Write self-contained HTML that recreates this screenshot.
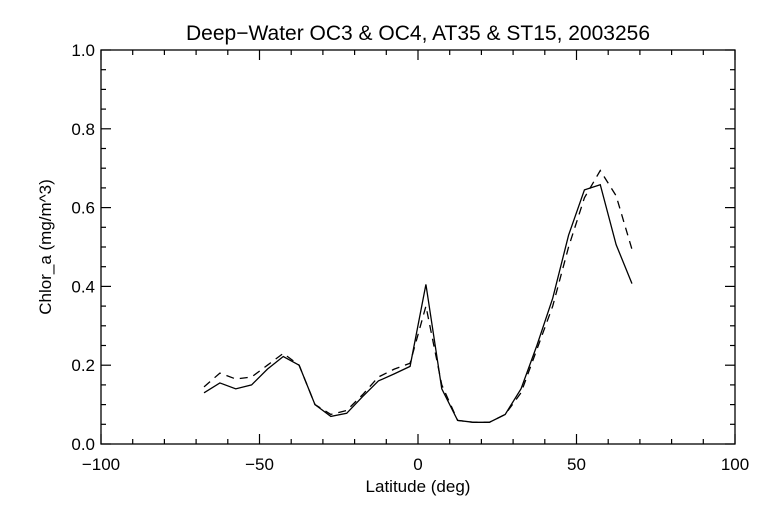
<!DOCTYPE html>
<html><head><meta charset="utf-8"><style>
html,body{margin:0;padding:0;background:#fff;}
svg text{font-family:"Liberation Sans",sans-serif;fill:#000;}
</style></head><body>
<svg id="chart" width="768" height="512" xmlns="http://www.w3.org/2000/svg">
<rect width="768" height="512" fill="#fff"/>
<text x="418" y="40" font-size="21" text-anchor="middle" font-weight="300">Deep−Water OC3 &amp; OC4, AT35 &amp; ST15, 2003256</text>
<g id="axes"></g>
<text x="418" y="492" font-size="17" text-anchor="middle">Latitude (deg)</text>
<text x="0" y="0" font-size="17" text-anchor="middle" transform="translate(51,247) rotate(-90)">Chlor_a (mg/m^3)</text>
<g id="series"></g>
</svg>
<script>
const latitudes = [-67.5,-62.5,-57.5,-52.5,-47.5,-42.5,-37.5,-32.5,-27.5,-22.5,-17.5,-12.5,-7.5,-2.5,2.5,7.5,12.5,17.5,22.5,27.5,32.5,37.5,42.5,47.5,52.5,57.5,62.5,67.5];
const oc4Values = [0.13,0.155,0.14,0.15,0.19,0.222,0.2,0.1,0.07,0.078,0.12,0.16,0.178,0.197,0.405,0.14,0.06,0.055,0.055,0.075,0.14,0.25,0.37,0.53,0.645,0.658,0.506,0.407];
const oc3Values = [0.145,0.18,0.165,0.17,0.2,0.23,0.2,0.1,0.075,0.085,0.125,0.17,0.19,0.205,0.35,0.15,0.06,0.055,0.055,0.075,0.13,0.24,0.35,0.5,0.625,0.694,0.63,0.494];
const xTickLabels = ["−100","−50","0","50","100"];
const xTickValues = [-100,-50,0,50,100];
const yTickLabels = ["0.0","0.2","0.4","0.6","0.8","1.0"];
const yTickValues = [0,0.2,0.4,0.6,0.8,1.0];

const L=101,R=735,T=50,B=444;
function xs(v){return L+(v+100)/200*(R-L);}
function ys(v){return B-v*(B-T);}
const NS="http://www.w3.org/2000/svg";
const axes=document.getElementById('axes');
function line(p,x1,y1,x2,y2,name){const l=document.createElementNS(NS,'line');
l.setAttribute('x1',x1);l.setAttribute('y1',y1);l.setAttribute('x2',x2);l.setAttribute('y2',y2);
l.setAttribute('stroke','#000');l.setAttribute('stroke-width','1.2');


p.appendChild(l);return l;}
const frame=document.createElementNS(NS,'rect');
frame.setAttribute('x',L);frame.setAttribute('y',T);frame.setAttribute('width',R-L);frame.setAttribute('height',B-T);
frame.setAttribute('fill','none');frame.setAttribute('stroke','#000');frame.setAttribute('stroke-width','1.3');


axes.appendChild(frame);
for(let v=-100;v<=100;v+=10){const major=(v%50===0);const len=major?10:5;const x=xs(v);
line(axes,x,B,x,B-len,'x-tick');line(axes,x,T,x,T+len,'x-tick-top');}
for(let i=0;i<=20;i++){const v=i*0.05;const major=(i%4===0);const len=major?10:5;const y=ys(v);
line(axes,L,y,L+len,y,'y-tick');line(axes,R,y,R-len,y,'y-tick-right');}
xTickValues.forEach((v,i)=>{const t=document.createElementNS(NS,'text');
t.setAttribute('x',xs(v));t.setAttribute('y',470);t.setAttribute('font-size','17');t.setAttribute('text-anchor','middle');
t.textContent=xTickLabels[i];


axes.appendChild(t);});
yTickValues.forEach((v,i)=>{const t=document.createElementNS(NS,'text');
t.setAttribute('x',95);t.setAttribute('y',ys(v)+6);t.setAttribute('font-size','17');t.setAttribute('text-anchor','end');
t.textContent=yTickLabels[i];


axes.appendChild(t);});
const series=document.getElementById('series');
function poly(vals,dash,name){const p=document.createElementNS(NS,'polyline');
p.setAttribute('points',latitudes.map((x,i)=>xs(x)+','+ys(vals[i])).join(' '));
p.setAttribute('fill','none');p.setAttribute('stroke','#000');p.setAttribute('stroke-width','1.3');
if(dash)p.setAttribute('stroke-dasharray','8,6');


series.appendChild(p);}
poly(oc3Values,true,'oc3-dashed-line');
poly(oc4Values,false,'oc4-solid-line');
</script>
</body></html>
